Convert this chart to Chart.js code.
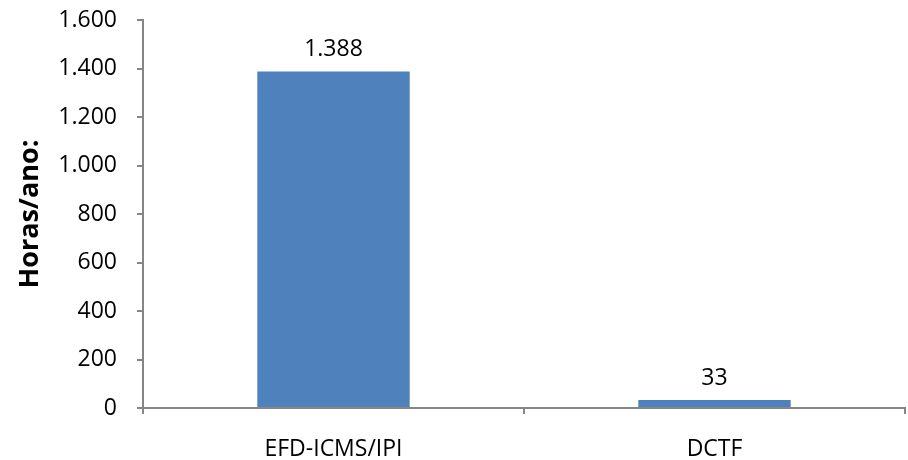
<!DOCTYPE html>
<html>
<head>
<meta charset="utf-8">
<script src="https://cdn.jsdelivr.net/npm/chart.js@4/dist/chart.umd.min.js"></script>
<style>
  html, body { margin: 0; padding: 0; background: #fff; }
  #wrap { width: 908px; height: 460px; }
</style>
</head>
<body>
<div id="wrap"><canvas id="horasChart" width="908" height="460"></canvas></div>
<script>
const categories = ["EFD-ICMS/IPI", "DCTF"];
const horasAno = [1388, 33];
const yTicks = [0, 200, 400, 600, 800, 1000, 1200, 1400, 1600];

const axisGray = '#868686';
const fontFamily = "'Open Sans', 'Liberation Sans', sans-serif";

// separador de milhar com ponto
function formatBR(v) {
    return String(v).replace(/\B(?=(\d{3})+(?!\d))/g, '.');
}

const valueLabels = {
    id: 'valueLabels',
    afterDatasetsDraw(chart) {
        const ctx = chart.ctx;
        const meta = chart.getDatasetMeta(0);
        ctx.save();
        ctx.font = "23px " + fontFamily;
        ctx.fillStyle = '#000';
        ctx.textAlign = 'center';
        ctx.textBaseline = 'alphabetic';
        meta.data.forEach((bar, i) => {
            ctx.fillText(formatBR(chart.data.datasets[0].data[i]), bar.x, bar.y - 15);
        });
        ctx.restore();
    }
};

new Chart(document.getElementById('horasChart'), {
    type: 'bar',
    plugins: [valueLabels],
    data: {
        labels: categories,
        datasets: [{
            data: horasAno,
            backgroundColor: '#4F81BD',
            categoryPercentage: 1,
            barPercentage: 0.4
        }]
    },
    options: {
        responsive: false,
        animation: false,
        layout: { padding: { top: 20, right: 3, left: 0, bottom: 0 } },
        plugins: {
            legend: { display: false },
            tooltip: { enabled: false }
        },
        scales: {
            x: {
                grid: {
                    offset: true,
                    drawOnChartArea: false,
                    drawTicks: true,
                    tickLength: 6,
                    color: axisGray,
                    lineWidth: 2
                },
                border: { color: axisGray, width: 2 },
                ticks: {
                    color: '#000',
                    font: { family: fontFamily, size: 23 },
                    padding: 22
                },
                afterFit(scale) { scale.height = 52; }
            },
            y: {
                min: 0,
                max: 1600,
                afterBuildTicks(scale) {
                    scale.ticks = yTicks.map(v => ({ value: v }));
                },
                grid: {
                    drawOnChartArea: false,
                    drawTicks: true,
                    tickLength: 6,
                    color: axisGray,
                    lineWidth: 2
                },
                border: { color: axisGray, width: 2 },
                ticks: {
                    color: '#000',
                    font: { family: fontFamily, size: 23 },
                    padding: 20,
                    callback: v => formatBR(v)
                },
                title: {
                    display: true,
                    text: 'Horas/ano:',
                    color: '#000',
                    font: { family: fontFamily, size: 27, weight: 'bold' },
                    padding: { top: 14, bottom: 0 }
                },
                afterFit(scale) {
                    scale.width = 143;
                    scale.paddingTop = 0;
                    scale.paddingBottom = 0;
                }
            }
        }
    }
});
</script>
</body>
</html>
